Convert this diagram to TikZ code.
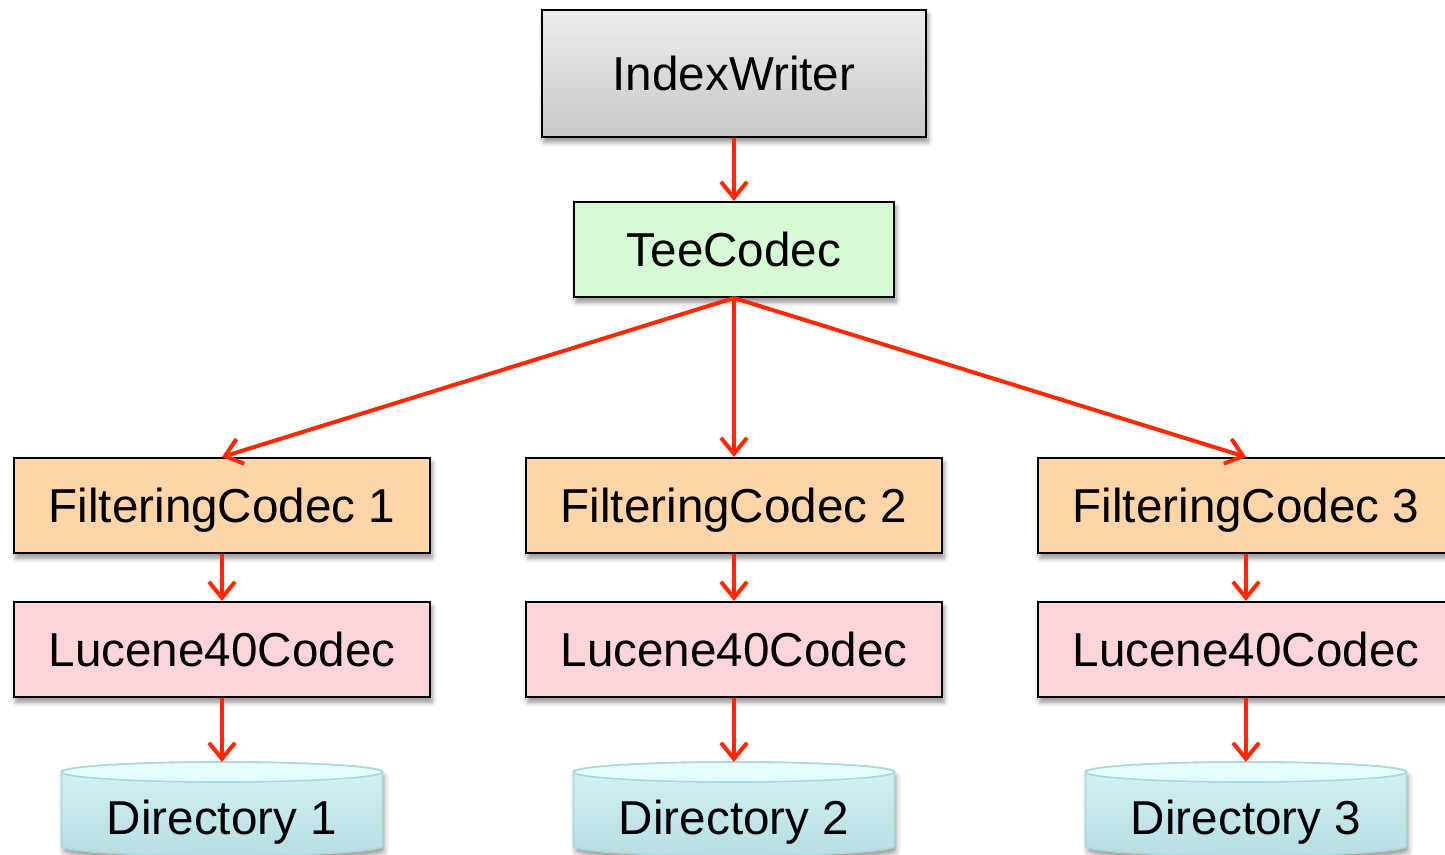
\documentclass[tikz,border=0pt]{standalone}
\usepackage{fontspec}
\setmainfont{Liberation Sans}
\usetikzlibrary{arrows.meta,shadows.blur}

\definecolor{flowred}{RGB}{255,40,0}
\definecolor{teegreen}{RGB}{213,250,213}
\definecolor{filtorange}{RGB}{253,213,168}
\definecolor{lucpink}{RGB}{253,213,216}
\definecolor{dirbody}{RGB}{200,241,244}
\definecolor{dirtop}{RGB}{228,252,253}
\definecolor{diredge}{RGB}{168,216,220}

\tikzset{
  box/.style={draw=black, line width=1pt, inner sep=0pt,
    minimum width=208pt, minimum height=47.5pt,
    text height=17pt, text depth=0pt,
    font=\fontsize{23.8}{28}\selectfont,
    blur shadow={shadow xshift=1pt, shadow yshift=-2.5pt,
      shadow blur radius=2.5pt, shadow opacity=45}},
  flow/.style={draw=flowred, line width=2pt,
    -{Straight Barb[length=8pt, width=13pt, line width=2pt]}},
  dirlabel/.style={inner sep=0pt, font=\fontsize{23.8}{28}\selectfont},
}

\begin{document}
\begin{tikzpicture}[x=0.5pt, y=-0.5pt]
  \useasboundingbox (0,0) rectangle (1445,855);
  \clip (0,0) rectangle (1445,855);

  % top of the chain
  \node[box, minimum width=192pt, minimum height=63.5pt,
        top color=black!7, bottom color=black!22] (iw) at (734,73.5) {IndexWriter};
  \node[box, minimum width=160pt, fill=teegreen] (tee) at (734,249.5) {TeeCodec};

  % three parallel branches
  \foreach \i/\x in {1/222, 2/734, 3/1246} {
    \node[box, fill=filtorange] (f\i) at (\x,505.5) {FilteringCodec \i};
    \node[box, fill=lucpink] (l\i) at (\x,649.5) {Lucene40Codec};

    % directory cylinder
    \begin{scope}[shift={(\x,0)}]
      \path[blur shadow={shadow xshift=1pt, shadow yshift=-2.5pt,
          shadow blur radius=2.5pt, shadow opacity=40},
          top color=dirbody!80!white, bottom color=dirbody!92!black, draw=diredge, line width=0.8pt]
        (-160.5,772) -- (-160.5,846)
        arc[start angle=180, end angle=0, x radius=160.5, y radius=10]
        -- (160.5,772)
        arc[start angle=0, end angle=-180, x radius=160.5, y radius=10] -- cycle;
      \draw[fill=dirtop, draw=diredge, line width=0.8pt]
        (0,772) ellipse[x radius=160.5, y radius=10];
    \end{scope}
    \coordinate (d\i) at (\x,762);
    \node[dirlabel] (dl\i) at (\x,822) {Directory \i};

    \draw[flow] (f\i.south) -- (l\i.north);
    \draw[flow] (l\i.south) -- (d\i);
  }

  \draw[flow] (iw.south) -- (tee.north);
  \draw[flow] (tee.south) -- (f1.north);
  \draw[flow] (tee.south) -- (f2.north);
  \draw[flow] (tee.south) -- (f3.north);
\end{tikzpicture}
\end{document}
